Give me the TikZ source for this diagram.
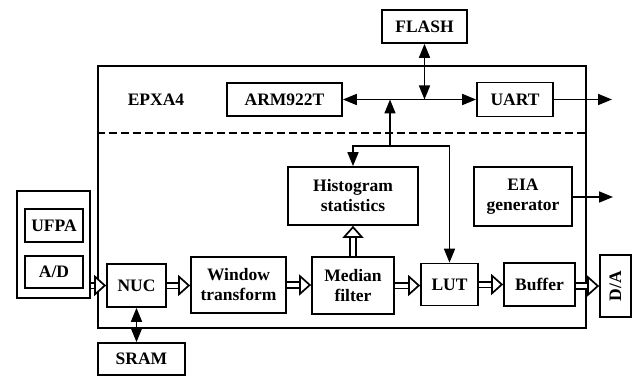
\documentclass[tikz,border=0pt]{standalone}
\usepackage{fontspec}
\setmainfont{Liberation Serif}
\usepackage{tikz}
\usetikzlibrary{
    arrows.meta,
    positioning,
    calc
}
\tikzset{
    % Base style for all blocks
    block base/.style={
        font=\bfseries\fontsize{17.5}{20}\selectfont,
        align=center,
        inner sep=0pt,
        draw,
        line width=1.7pt,
    },
    % Plain rectangular block
    block/.style={
        block base,
        rectangle,
    },
    % Solid arrow for the bus lines
    arrow/.style={
        -{Triangle[length=14pt, width=11pt]},
        line width=1.7pt,
    },
    % Two-way bus arrow
    arrow both/.style={
        {Triangle[length=14pt, width=11pt]}-{Triangle[length=14pt, width=11pt]},
        line width=1.7pt,
    },
    % Hollow data flow arrow - double shaft first, open head on top
    hollow/.style={
        draw=white,
        line width=0.1pt,
        -{Triangle[open, fill=white, color=black, length=12pt, width=21pt, line width'=1.7pt]},
        preaction={
            draw=black,
            double=white,
            double distance=4pt,
            line width=1.7pt,
            arrows=-,
            shorten >=6pt,
        },
    },
}

\begin{document}
\begin{tikzpicture}[x=1pt, y=-1pt, font=\bfseries\fontsize{17.5}{20}\selectfont]
    \useasboundingbox (0,0) rectangle (632,377);

    % chip outline
    \node (epxa) [block, minimum width=488pt, minimum height=262pt] at (342,197) {};
    \node (epxalabel) at (156,100) {EPXA4};
    \draw [line width=1.7pt, dash pattern=on 8pt off 4pt] (epxa.west |- 0,133) -- (epxa.east |- 0,133);

    % blocks
    \node (flash) [block, minimum width=85pt, minimum height=33pt] at (424.5,26.5) {FLASH};
    \node (arm) [block, minimum width=115pt, minimum height=33pt] at (284.5,99.5) {ARM922T};
    \node (uart) [block, minimum width=76pt, minimum height=34pt] at (515,99.5) {UART};
    \node (hist) [block, minimum width=130pt, minimum height=58pt] at (353,196) {Histogram\\statistics};
    \node (eia) [block, minimum width=98pt, minimum height=59pt] at (523,196.5) {EIA\\generator};
    \node (src) [block, minimum width=73pt, minimum height=107pt] at (53.5,244.5) {};
    \node (ufpa) [block, minimum width=58pt, minimum height=33pt] at (54,225.5) {UFPA};
    \node (ad) [block, minimum width=58pt, minimum height=32pt] at (54,272) {A/D};
    \node (nuc) [block, minimum width=59pt, minimum height=43pt] at (136.5,285.5) {NUC};
    \node (win) [block, minimum width=95pt, minimum height=56pt] at (238.5,285) {Window\\transform};
    \node (med) [block, minimum width=82pt, minimum height=57pt] at (353,285.5) {Median\\filter};
    \node (lut) [block, minimum width=57pt, minimum height=42pt] at (449.5,284.5) {LUT};
    \node (buf) [block, minimum width=71pt, minimum height=43pt] at (539.5,284.5) {Buffer};
    \node (da) [block, minimum width=31pt, minimum height=62pt] at (615.5,286) {\rotatebox{90}{D/A}};
    \node (sram) [block, minimum width=87pt, minimum height=32pt] at (141.5,359) {SRAM};

    % free ends and junctions
    \coordinate (tap) at (390,146);
    \coordinate (uartout) at (612,99.5);
    \coordinate (eiaout) at (613,197);

    % bus
    \draw [arrow both] (arm.east) -- (uart.west);
    \draw [arrow both] (flash.south) -- (flash.south |- arm.east);
    \draw [arrow] (tap) -- (tap |- arm.east);
    \draw [arrow] (tap) -| (hist.north);
    \draw [arrow] (tap) -| (lut.north);
    \draw [arrow] (uart.east) -- (uartout);
    \draw [arrow] (eia.east |- eiaout) -- (eiaout);
    \draw [arrow both] (nuc.south) -- (nuc.south |- sram.north);

    % data flow
    \draw [hollow] (src.east |- nuc.west) -- (nuc.west);
    \draw [hollow] (nuc.east) -- (nuc.east -| win.west);
    \draw [hollow] (win.east) -- (win.east -| med.west);
    \draw [hollow] (med.east) -- (med.east -| lut.west);
    \draw [hollow] (lut.east) -- (buf.west);
    \draw [hollow] (buf.east |- da.west) -- (da.west);
    \draw [hollow] (med.north) -- (hist.south);
\end{tikzpicture}
\end{document}
